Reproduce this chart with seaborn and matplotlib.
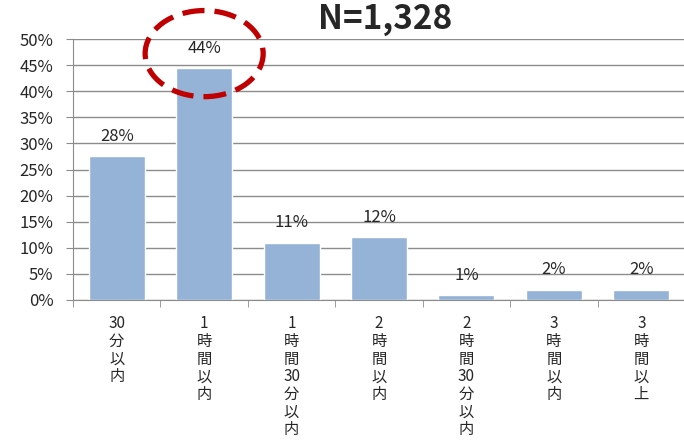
import pandas as pd
import matplotlib.pyplot as plt
import seaborn as sns
from matplotlib.patches import Ellipse
from matplotlib.ticker import MultipleLocator, PercentFormatter

# Data
categories = ['30分以内', '1時間以内', '1時間30分以内', '2時間以内', '2時間30分以内', '3時間以内', '3時間以上']
values = [27.6, 44.4, 11.0, 12.1, 0.9, 2.0, 2.0]
value_labels = ['28%', '44%', '11%', '12%', '1%', '2%', '2%']
title_text = 'N=1,328'


def vertical(label):
    # stack characters top to bottom, keep digit runs together
    parts = []
    buf = ''
    for ch in label:
        if ch.isdigit():
            buf += ch
        else:
            if buf:
                parts.append(buf)
                buf = ''
            parts.append(ch)
    if buf:
        parts.append(buf)
    return '\n'.join(parts)


df = pd.DataFrame({'cat': categories, 'val': values})

sns.set_style('white')
plt.rcParams['font.family'] = ['Noto Sans CJK JP', 'DejaVu Sans']

fig = plt.figure(figsize=(6.84, 4.48), dpi=100)
ax = fig.add_axes([73 / 684, 148 / 448, 612 / 684, 261 / 448])

sns.barplot(data=df, x='cat', y='val', color='#95B3D7', saturation=1, width=0.64, ax=ax)

ax.set_ylim(0, 50)
ax.set_xlim(-0.5, len(categories) - 0.5)
ax.yaxis.set_major_locator(MultipleLocator(5))
ax.yaxis.set_major_formatter(PercentFormatter(decimals=0))
ax.grid(axis='y', color='#8C8C8C', linewidth=1)
ax.set_axisbelow(True)
for s in ['top', 'right']:
    ax.spines[s].set_visible(False)
for s in ['left', 'bottom']:
    ax.spines[s].set_color('#8C8C8C')
ax.tick_params(axis='y', labelsize=12, length=5, color='#8C8C8C', left=True, pad=9)

ax.set_xticks(range(len(categories)))
ax.set_xticklabels([vertical(c) for c in categories], fontsize=11, linespacing=1.05, va='top')
ax.tick_params(axis='x', length=0, pad=11)
ax.set_xticks([i + 0.5 for i in range(-1, len(categories))], minor=True)
ax.tick_params(axis='x', which='minor', length=5, color='#8C8C8C', bottom=True)
ax.set_xlabel('')
ax.set_ylabel('')

for i, (v, t) in enumerate(zip(values, value_labels)):
    ax.text(i, v + 3.8, t, ha='center', va='center', fontsize=12)

fig.text(385 / 684, 1 - 19 / 448, title_text, ha='center', va='center', fontsize=24,
         fontweight='bold')

ring = Ellipse((1.0, 47.2), width=1.35, height=16.5, fill=False, edgecolor='#C00000',
               linewidth=3.8, linestyle=(0, (4.2, 1.9)), clip_on=False)
ax.add_patch(ring)

plt.savefig('out.png', dpi=100)
